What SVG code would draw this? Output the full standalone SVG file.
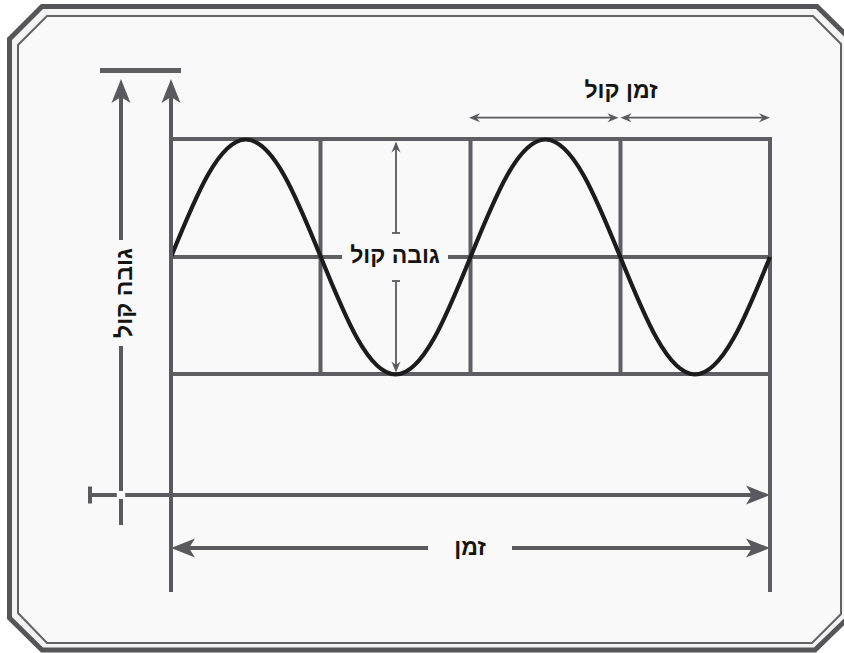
<svg xmlns="http://www.w3.org/2000/svg" width="844" height="653" viewBox="0 0 844 653">
  <style>
    .grid { stroke: #5f5f63; stroke-width: 4; fill: none; }
    .axis { stroke: #5a5a5e; stroke-width: 4; fill: none; }
    .thin { stroke: #5a5a5e; stroke-width: 1.8; fill: none; }
    .lbl { font-family: "Liberation Sans", "DejaVu Sans", sans-serif; font-weight: bold; font-size: 23px; fill: #141414; text-anchor: middle; }
  </style>
  <defs>
    <marker id="big" viewBox="-25 -11 26 22" markerWidth="26" markerHeight="22" refX="-8" refY="0" orient="auto-start-reverse" markerUnits="userSpaceOnUse">
      <path d="M0,0 L-24,-9.5 L-18,0 L-24,9.5 Z" fill="#5a5a5e"/>
    </marker>
    <marker id="small" viewBox="-12 -6 13 12" markerWidth="13" markerHeight="12" refX="-4" refY="0" orient="auto-start-reverse" markerUnits="userSpaceOnUse">
      <path d="M0,0 L-11,-4.5 L-7.5,0 L-11,4.5 Z" fill="#5a5a5e"/>
    </marker>
  </defs>

  <rect x="0" y="0" width="844" height="653" fill="#ffffff"/>

  <g id="frame">
    <path d="M42,6.5 L817,6.5 L848,37 L848,618 L815,650 L42,650 L9.5,618 L9.5,39 Z" fill="#f4f4f4" stroke="#555557" stroke-width="5"/>
    <path d="M47,16 L813,16 L841,44 L841,614 L812,643 L47,643 L18,613 L18,45 Z" fill="#f9f9f9" stroke="#636366" stroke-width="2"/>
  </g>

  <g id="grid">
    <path class="grid" d="M171,139 L770,139 M171,257 L342,257 M448,257 L770,257 M171,374 L770,374"/>
    <path class="grid" d="M320.5,137 L320.5,376 M470.5,137 L470.5,376 M620.5,137 L620.5,376 M770,137 L770,592"/>
    <rect x="100" y="68" width="81" height="5" fill="#5f5f63"/>
  </g>

  <g id="wave">
    <path d="M171,257 C195.4,196.8 218.8,139.5 245.9,139.5 S296.4,196.8 320.8,257 S368.5,374.5 395.6,374.5 S446.1,317.2 470.5,257 S518.3,139.5 545.4,139.5 S595.9,196.8 620.3,257 S668,374.5 695.1,374.5 S745.6,317.2 770,257" fill="none" stroke="#1c1c1c" stroke-width="4.2"/>
  </g>

  <g id="connectors">
    <!-- left vertical axis (sound height) -->
    <line class="axis" x1="121" y1="525" x2="121" y2="346"/>
    <line class="axis" x1="121" y1="240" x2="121" y2="87" marker-end="url(#big)"/>
    <!-- second vertical arrow / grid left -->
    <line class="axis" x1="171" y1="592" x2="171" y2="87" marker-end="url(#big)"/>
    <!-- horizontal time axis -->
    <line class="axis" x1="90" y1="495" x2="762" y2="495" marker-end="url(#big)"/>
    <line class="axis" x1="90" y1="486.5" x2="90" y2="503.5" stroke-width="3.5"/>
    <rect x="116.8" y="491" width="8.4" height="8" fill="#f9f9f9"/>
    <!-- bottom time span -->
    <line class="axis" x1="179" y1="548" x2="428" y2="548" marker-start="url(#big)"/>
    <line class="axis" x1="512" y1="548" x2="762" y2="548" marker-end="url(#big)"/>
    <!-- period arrows -->
    <line class="thin" x1="473" y1="117.7" x2="614.5" y2="117.7" marker-start="url(#small)" marker-end="url(#small)"/>
    <line class="thin" x1="624.5" y1="117.7" x2="766" y2="117.7" marker-start="url(#small)" marker-end="url(#small)"/>
    <!-- amplitude arrow -->
    <line class="thin" x1="396" y1="233" x2="396" y2="145.5" marker-end="url(#small)"/>
    <line class="thin" x1="392" y1="233" x2="400" y2="233"/>
    <line class="thin" x1="396" y1="281" x2="396" y2="368.5" marker-end="url(#small)"/>
    <line class="thin" x1="392" y1="281" x2="400" y2="281"/>
  </g>

  <g id="labels">
    <text class="lbl" x="621" y="98">זמן קול</text>
    <text class="lbl" x="395" y="263">גובה קול</text>
    <text class="lbl" x="470" y="555">זמן</text>
    <text class="lbl" transform="translate(121,293) rotate(-90)" x="0" y="11">גובה קול</text>
  </g>
</svg>
